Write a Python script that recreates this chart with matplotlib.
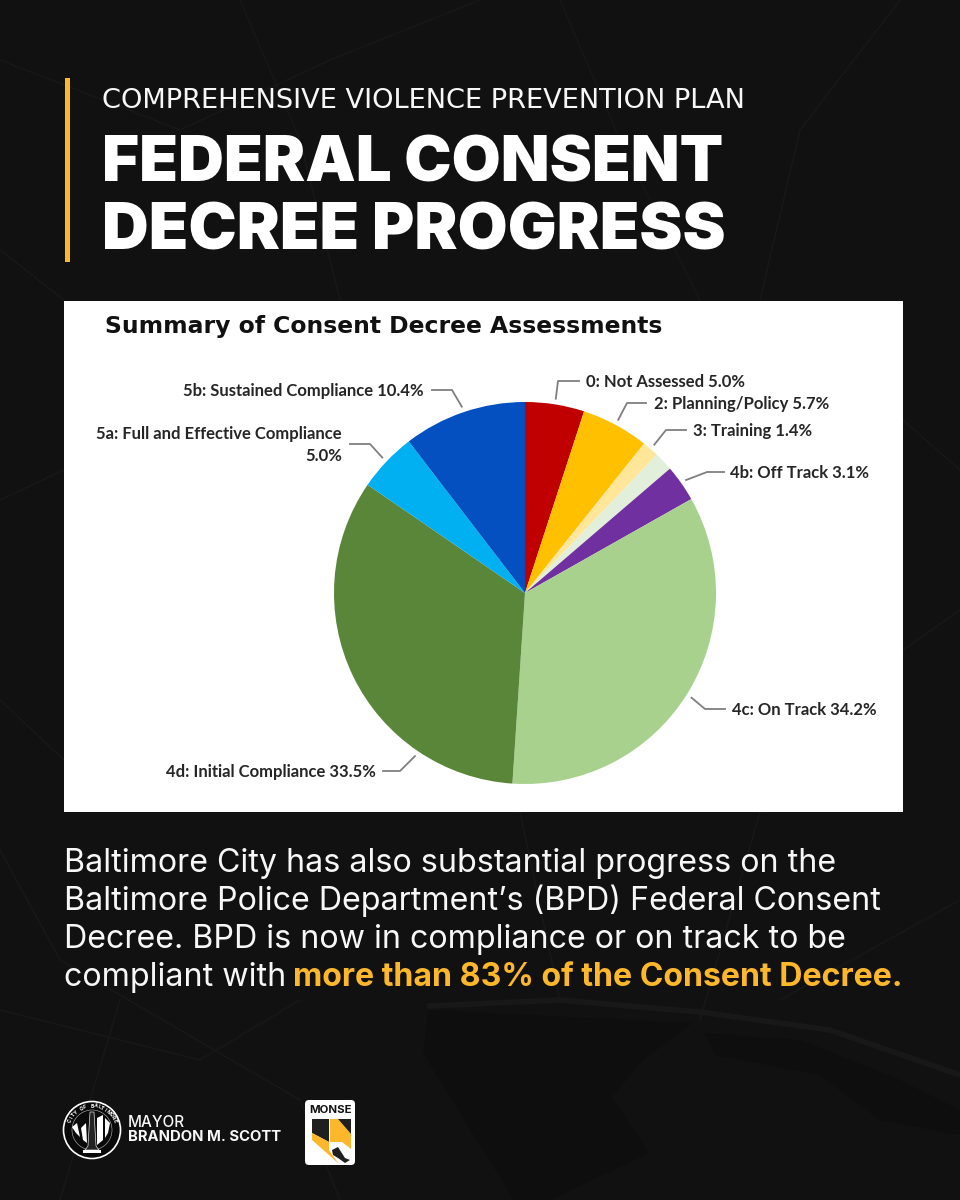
import numpy as np
import matplotlib
matplotlib.use("Agg")
import matplotlib.pyplot as plt
from matplotlib.patches import Rectangle, Circle, Polygon, FancyBboxPatch

BG, INK, GOLD, ROAD, WATER = "#111111", "#f7f7f7", "#fdb72b", "#181818", "#0e0e0e"

# assessment shares, clockwise from twelve o'clock
categories = ["0: Not Assessed", "2: Planning/Policy", "3: Training", "4a", "4b: Off Track",
              "4c: On Track", "4d: Initial Compliance",
              "5a: Full and Effective Compliance", "5b: Sustained Compliance"]
shares = [5.0, 5.7, 1.4, 1.6, 3.1, 34.2, 33.5, 5.0, 10.4]
colors = ["#c00000", "#ffc000", "#ffe699", "#e2efda", "#7030a0",
          "#a9d18e", "#5a8639", "#00b0f0", "#0450c0"]

body_lines = ["Baltimore City has also substantial progress on the",
              "Baltimore Police Department\u2019s (BPD) Federal Consent",
              "Decree. BPD is now in compliance or on track to be"]

fig = plt.figure(figsize=(9.6, 12), dpi=100)
fig.patch.set_facecolor(BG)

# full-page axes in pixel coordinates, y pointing down
ax = fig.add_axes([0, 0, 1, 1])
ax.set_xlim(0, 960); ax.set_ylim(1200, 0); ax.axis("off")

# faint street map behind everything: harbour shapes, then roads
harbour = [[(429, 1010), (692, 1023), (643, 1060), (612, 1097), (649, 1153), (551, 1200), (514, 1200), (423, 1053)],
           [(704, 1033), (800, 1040), (900, 1080), (960, 1110), (960, 1135), (880, 1120), (820, 1075), (715, 1055)]]
for h in harbour:
    ax.add_patch(Polygon(h, color=WATER, lw=0, zorder=0))
roads = [[(0, 60), (180, 130), (330, 60), (480, 0)], [(240, 0), (300, 140), (340, 300)],
         [(0, 250), (64, 300)], [(900, 0), (800, 130), (760, 300)], [(560, 0), (620, 140), (700, 300)],
         [(903, 420), (960, 470)], [(903, 650), (960, 610)], [(0, 500), (64, 470)], [(0, 700), (64, 760)],
         [(0, 850), (60, 960), (300, 1100), (340, 1200)], [(520, 812), (560, 1000)],
         [(760, 812), (700, 1020)], [(960, 900), (780, 1000)],
         [(120, 1000), (60, 1200)], [(0, 1010), (200, 1060), (300, 1000)]]
for r in roads:
    ax.plot(*zip(*r), color=ROAD, lw=1, zorder=1)
ax.plot([430, 560, 700, 830, 960], [1006, 1000, 1012, 1030, 1075], color=ROAD, lw=4, zorder=1)

# header
ax.add_patch(Rectangle((65, 78), 5, 184, color=GOLD, lw=0, zorder=2))
ax.text(102, 108, "COMPREHENSIVE VIOLENCE PREVENTION PLAN", color=INK, fontsize=19.6,
        family="DejaVu Sans", va="baseline", zorder=3)
ax.text(102, 181, "FEDERAL CONSENT", color="white", fontsize=45.7, family="Inter",
        fontweight="black", va="baseline", zorder=3)
ax.text(102, 249, "DECREE PROGRESS", color="white", fontsize=46.6, family="Inter",
        fontweight="black", va="baseline", zorder=3)

# white chart panel
ax.add_patch(Rectangle((64, 301), 839, 511, color="white", lw=0, zorder=2))
ax.text(105, 327, "Summary of Consent Decree Assessments", color="#111111", fontsize=16.9,
        family="DejaVu Sans", fontweight="bold", va="center", zorder=3)

# pie on its own axes, centred at (525, 593) with a 191 px radius
cx, cy, rad = 525, 593, 191
axp = fig.add_axes([(cx - rad) / 960, 1 - (cy + rad) / 1200, 2 * rad / 960, 2 * rad / 1200])
wedges, _ = axp.pie(shares, colors=colors, startangle=90, counterclock=False, radius=1,
                    wedgeprops={"lw": 0})
axp.set_xlim(-1, 1); axp.set_ylim(-1, 1); axp.set_aspect("equal")
axp.patch.set_alpha(0)

# callouts: angle of the leader on the rim (None = slice middle), elbow, end, text anchor, alignment
callouts = {
    0: (None, (558, 381), (579, 381), (586, 382), "left"),
    1: (None, (627, 403), (646, 403), (654, 404), "left"),
    2: (None, (666, 430), (686, 430), (693, 431), "left"),
    4: (None, (707, 472), (724, 472), (730, 473), "left"),
    5: (None, (705, 709), (725, 709), (732, 710), "left"),
    6: (236, (400, 771), (383, 771), (376, 772), "right"),
    7: (None, (370, 444), (350, 444), (342, 445), "right"),
    8: (None, (452, 390), (432, 390), (424, 391), "right"),
}
for i, (rim, elbow, end, anchor, ha) in callouts.items():
    ang = np.deg2rad(rim if rim is not None else (wedges[i].theta1 + wedges[i].theta2) / 2)
    sx, sy = cx + rad * 1.03 * np.cos(ang), cy - rad * 1.03 * np.sin(ang)
    ax.plot([sx, elbow[0], end[0]], [sy, elbow[1], end[1]], color="#7f7f7f", lw=1.3, zorder=3)
    label = f"{categories[i]} {shares[i]:.1f}%"
    if i == 7:  # long label wraps onto a second line
        label = f"{categories[i]}\n{shares[i]:.1f}%"
    ax.text(anchor[0], anchor[1], label, color="#262626", fontsize=12, family="Lato",
            fontweight="bold", ha=ha, va="center", multialignment="right", linespacing=1.5, zorder=3)

# body copy
for y, line in zip([872, 910, 948], body_lines):
    ax.text(64, y, line, color=INK, fontsize=23.2, family="Inter", va="baseline", zorder=3)
ax.text(64, 986, "compliant with", color=INK, fontsize=23.2, family="Inter", va="baseline", zorder=3)
ax.text(293, 986, "more than 83% of the Consent Decree.", color=GOLD, fontsize=23.1, family="Inter",
        fontweight="bold", va="baseline", zorder=3)

# city seal: ring, curved name, diagonal flag stripes, tower
sx0, sy0 = 92, 1130
ax.add_patch(Circle((sx0, sy0), 28.5, fc="#0a0a0a", ec="white", lw=1.2, zorder=3))
ax.add_patch(Circle((sx0, sy0), 20, fc="none", ec="#bbbbbb", lw=0.4, zorder=4))
seal_name = "CITY OF BALTIMORE"
for ch, a in zip(seal_name, np.linspace(158, 22, len(seal_name))):
    t = np.deg2rad(a)
    ax.text(sx0 + 24 * np.cos(t), sy0 - 24 * np.sin(t), ch, color="white", fontsize=3.6, family="Inter",
            fontweight="bold", rotation=a - 90, rotation_mode="anchor", ha="center", va="center", zorder=4)
stripes = [[(72, 1127), (77, 1123), (80, 1137), (76, 1133)], [(81, 1128), (86, 1123), (87, 1143), (83, 1140)],
           [(97, 1118), (103, 1115), (103, 1140), (97, 1145)], [(105, 1118), (110, 1123), (108, 1133), (105, 1138)]]
for s in stripes:
    ax.add_patch(Polygon(s, color="white", lw=0, zorder=4))
ax.add_patch(Polygon([(90, 1112), (94, 1112), (96, 1146), (99, 1150), (85, 1150), (88, 1146)],
                     fc="#222222", ec="#dddddd", lw=0.5, zorder=5))
ax.add_patch(Rectangle((83, 1150), 18, 3, color="white", lw=0, zorder=5))

ax.text(128, 1127, "MAYOR", color=INK, fontsize=11, family="Inter", fontweight="medium", va="baseline", zorder=3)
ax.text(128, 1141, "BRANDON M. SCOTT", color=INK, fontsize=10.7, family="Inter", fontweight="bold",
        va="baseline", zorder=3)

# MONSE badge
ax.add_patch(FancyBboxPatch((308, 1103), 44, 59, boxstyle="round,pad=3,rounding_size=4",
                            fc="white", ec="none", zorder=3))
ax.text(331, 1110, "MONSE", color="#111111", fontsize=8.2, family="Inter", fontweight="bold",
        ha="center", va="center", zorder=4)
badge_shapes = [
    ("#1f1f1f", [(312, 1119), (329, 1119), (329, 1142), (312, 1133)]),
    ("#fdb72b", [(312, 1133), (329, 1142), (329, 1150), (338, 1163), (312, 1140)]),
    ("#fdb72b", [(330, 1119), (338, 1119), (351, 1134), (351, 1149), (342, 1142), (330, 1142)]),
    ("#1f1f1f", [(338, 1119), (351, 1119), (351, 1134)]),
    ("#1f1f1f", [(332, 1150), (338, 1147), (345, 1158), (350, 1160), (345, 1163), (338, 1158), (333, 1155)]),
]
for c, pts in badge_shapes:
    ax.add_patch(Polygon(pts, color=c, lw=0, zorder=5))

fig.savefig("out.png", dpi=100, facecolor=BG)
plt.close(fig)
